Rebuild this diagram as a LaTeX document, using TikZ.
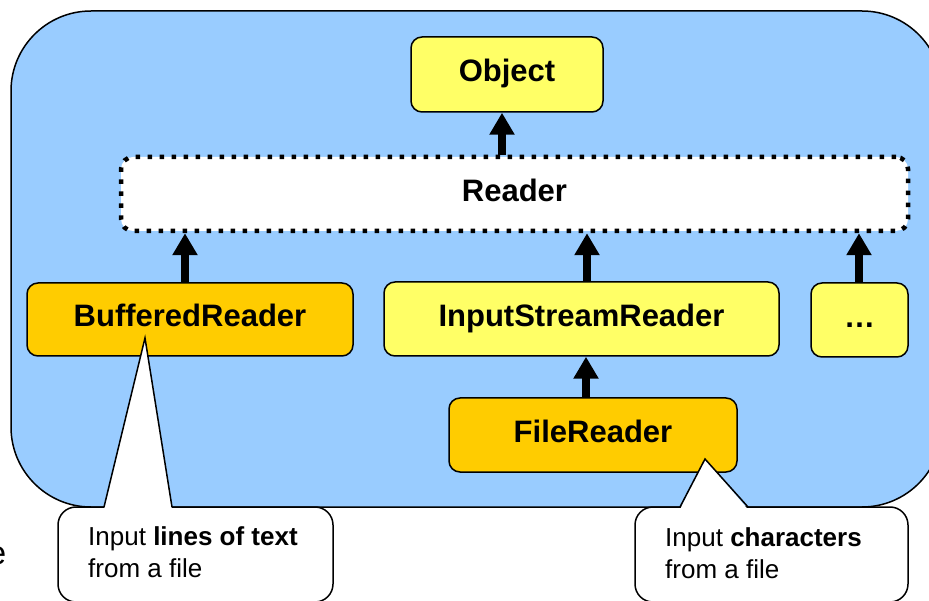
\documentclass[tikz,border=0pt]{standalone}
\usepackage{fontspec}
\setmainfont{Liberation Sans}
\usetikzlibrary{arrows.meta}
\definecolor{bgblue}{HTML}{99CCFF}
\definecolor{lyellow}{HTML}{FFFF66}
\definecolor{orangey}{HTML}{FFCC00}
\begin{document}
\begin{tikzpicture}[x=1pt,y=-1pt,
  cls/.style={draw=black, line width=1.5pt, rounded corners=11pt,
    font=\fontsize{31}{37}\selectfont\bfseries, inner sep=0pt,
    text height=23pt, text depth=8pt},
  yellowcls/.style={cls, fill=lyellow},
  orangecls/.style={cls, fill=orangey},
  abstractcls/.style={cls, fill=white, line width=4.5pt,
    dash pattern=on 4.5pt off 7.5pt, rounded corners=12pt},
  inherit/.style={line width=8pt, -{Triangle[width=24pt,length=22pt]}},
  calloutbody/.style={draw=black, line width=1.5pt, fill=white, rounded corners=18pt},
  wedgeline/.style={draw=black, line width=1.5pt, line join=miter},
  callouttext/.style={font=\fontsize{26}{32}\selectfont, align=left,
    anchor=north west, inner sep=0pt}
]
\useasboundingbox (0,0) rectangle (929,601);
\clip (0,0) rectangle (929,601);

% background panel
\draw[fill=bgblue, line width=1.5pt, rounded corners=80pt] (11,11) rectangle (942,507);

% classes
\node[yellowcls, minimum width=192pt, minimum height=75pt] (object) at (507,74.5) {Object};
\node[abstractcls, minimum width=787pt, minimum height=74pt] (reader) at (514.5,194) {Reader};
\node[orangecls, minimum width=326pt, minimum height=73pt] (buffered) at (190,319.5) {BufferedReader};
\node[yellowcls, minimum width=395pt, minimum height=74pt] (isr) at (581.5,319) {InputStreamReader};
\node[yellowcls, minimum width=97pt, minimum height=74pt] (more) at (859.5,320) {…};
\node[orangecls, minimum width=288pt, minimum height=74pt] (file) at (593,435) {FileReader};

% x positions of the arrows
\coordinate (xa) at (502,0);
\coordinate (xb) at (185,0);
\coordinate (xc) at (587,0);
\coordinate (xd) at (859,0);
\coordinate (xe) at (586,0);

\draw[inherit] (reader.north -| xa) -- (object.south -| xa);
\draw[inherit] (buffered.north -| xb) -- (reader.south -| xb);
\draw[inherit] (isr.north -| xc) -- (reader.south -| xc);
\draw[inherit] (more.north -| xd) -- (reader.south -| xd);
\draw[inherit] (file.north -| xe) -- (isr.south -| xe);

% callout 1
\draw[calloutbody] (58,507) rectangle (333,602);
\coordinate (t1) at (145,338);
\coordinate (b1l) at (104,507);
\coordinate (b1r) at (172,507);
\fill[white] (104,509.5) -- (t1) -- (172,509.5) -- cycle;
\draw[wedgeline] (b1l) -- (t1) -- (b1r);
\node[callouttext] (c1) at (88,526) {Input \textbf{lines of text}\\from a file};

% callout 2
\draw[calloutbody] (635,507) rectangle (908,602);
\coordinate (t2) at (705,459);
\coordinate (b2l) at (680,507);
\coordinate (b2r) at (748,507);
\fill[white] (680,509.5) -- (t2) -- (748,509.5) -- cycle;
\draw[wedgeline] (b2l) -- (t2) -- (b2r);
\node[callouttext] (c2) at (665,527) {Input \textbf{characters}\\from a file};

% cut-off text at the left edge (cut off in the reference too)
\node[font=\fontsize{33}{40}\selectfont, anchor=base east, inner sep=0pt] (cut) at (6.5,564) {e};
\end{tikzpicture}
\end{document}
